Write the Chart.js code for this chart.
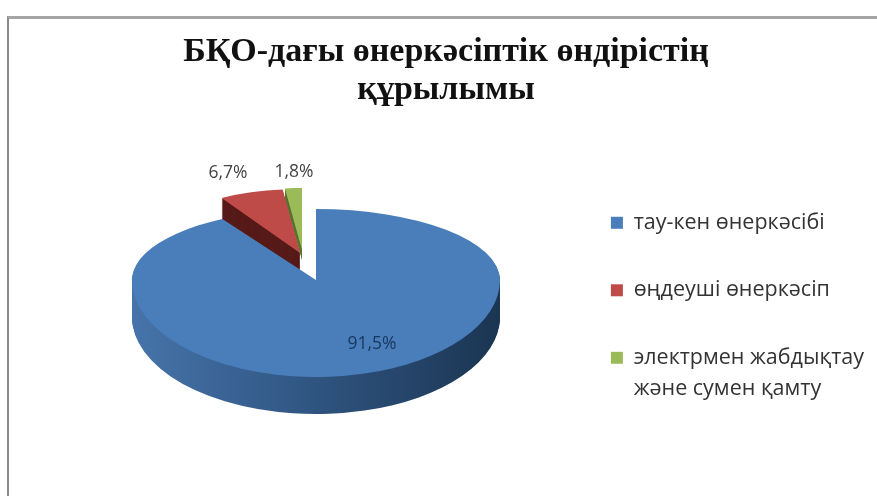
<!DOCTYPE html>
<html>
<head>
<meta charset="utf-8">
<script src="https://cdn.jsdelivr.net/npm/chart.js@4/dist/chart.umd.min.js"></script>
<style>
  html, body { margin: 0; background: #fff; }
  #wrap { position: relative; width: 877px; height: 496px; overflow: hidden; }
  #frame { position: absolute; left: 7px; top: 16px; width: 880px; height: 500px;
           border-left: 2px solid #8a8a8a; border-top: 3px solid #a5a5a5; }
  canvas { position: absolute; left: 0; top: 0; filter: blur(0.6px); }
</style>
</head>
<body>
<div id="wrap">
  <div id="frame"></div>
  <canvas id="pieChart" width="877" height="496"></canvas>
</div>
<script>
const titleLines = ["БҚО-дағы өнеркәсіптік өндірістің", "құрылымы"];
const categories = ["тау-кен өнеркәсібі", "өңдеуші өнеркәсіп", ["электрмен жабдықтау", "және сумен қамту"]];
const shares = [91.5, 6.7, 1.8];
const topColors = ["#4a7ebb", "#be4b48", "#9bbb59"];
const sideColors = [null, "#561a18", "#5b7030"];

// how each slice is laid flat on the page (apex, radii, thickness)
const sliceViews = [
  { ax: 316, ay: 280, rx: 184, up: 71, down: 97, depth: 37 },
  { ax: 300, ay: 253, rx: 154, up: 64, down: 64, depth: 22 },
  { ax: 302, ay: 250, rx: 151, up: 62, down: 62, depth: 10 }
];
const labelSpots = [
  { x: 372, y: 344, color: "#17375e" },
  { x: 228, y: 173, color: "#444444" },
  { x: 294, y: 172, color: "#444444" }
];

function paintArc(ctx, arc, view, fill, dy) {
  const R = arc.outerRadius;
  const keep = arc.options;
  arc.options = Object.assign({}, keep, { backgroundColor: fill, borderWidth: 0 });
  [[-2000, view.ay + dy, view.up], [view.ay + dy, 2000, view.down]].forEach(([y0, y1, ry]) => {
    ctx.save();
    ctx.beginPath();
    ctx.rect(0, y0, 877, y1 - y0);
    ctx.clip();
    ctx.translate(view.ax, view.ay + dy);
    ctx.scale(view.rx / R, ry / R);
    ctx.translate(-arc.x, -arc.y);
    arc.draw(ctx);
    ctx.restore();
  });
  arc.options = keep;
}

const tiltedPie = {
  id: "tiltedPie",
  beforeDatasetDraw() { return false; },
  afterDatasetsDraw(chart) {
    const ctx = chart.ctx;
    const arcs = chart.getDatasetMeta(0).data;
    [2, 1, 0].forEach(i => {
      const arc = arcs[i], view = sliceViews[i];
      let side = sideColors[i];
      if (!side) {
        side = ctx.createLinearGradient(arc.x - arc.outerRadius, 0, arc.x + arc.outerRadius, 0);
        side.addColorStop(0, "#4674aa");
        side.addColorStop(0.5, "#2f5480");
        side.addColorStop(1, "#1b3552");
      }
      for (let d = view.depth; d > 0; d--) paintArc(ctx, arc, view, side, d);
      paintArc(ctx, arc, view, topColors[i], 0);
    });
    // value labels
    ctx.save();
    ctx.font = "17.5px 'Open Sans'";
    ctx.textAlign = "center";
    ctx.textBaseline = "middle";
    shares.forEach((v, i) => {
      ctx.fillStyle = labelSpots[i].color;
      ctx.fillText(v.toFixed(1).replace(".", ",") + "%", labelSpots[i].x, labelSpots[i].y);
    });
    ctx.restore();
  }
};

new Chart(document.getElementById("pieChart").getContext("2d"), {
  type: "pie",
  data: {
    labels: categories,
    datasets: [{ data: shares, backgroundColor: topColors, borderWidth: 0 }]
  },
  plugins: [tiltedPie],
  options: {
    responsive: false,
    animation: false,
    // negative bottom padding pushes the centred legend down to its place
    layout: { padding: { left: 18, right: 3, top: 33, bottom: -92 } },
    plugins: {
      tooltip: { enabled: false },
      title: {
        display: true,
        text: titleLines,
        color: "#111111",
        font: { family: "'Liberation Serif'", size: 34, weight: "bold", lineHeight: 1.12 },
        padding: { top: 0, bottom: 0 }
      },
      legend: {
        position: "right",
        labels: {
          color: "#333333",
          boxWidth: 12,
          boxHeight: 12,
          padding: 46,
          font: { family: "'Open Sans'", size: 21.5, lineHeight: 1.44 }
        }
      }
    }
  }
});
</script>
</body>
</html>
